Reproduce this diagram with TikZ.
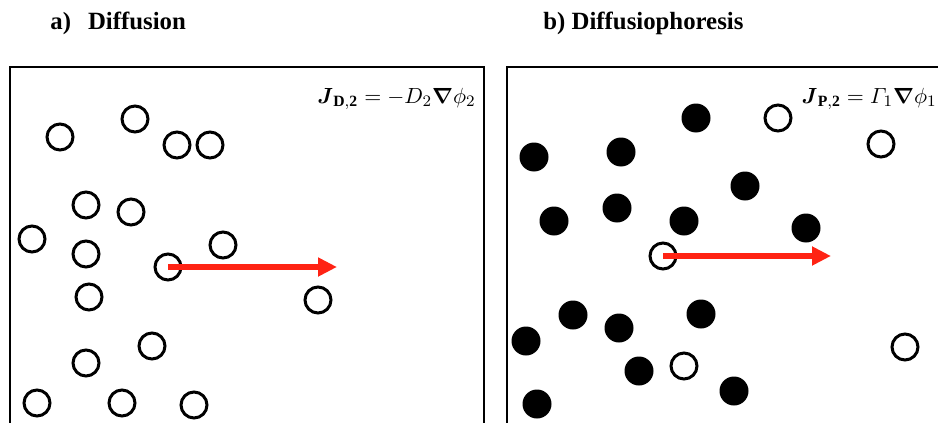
\documentclass[tikz,border=0pt]{standalone}
\usepackage{amsmath,amssymb}
\usepackage{fontspec}
\setmainfont{Liberation Serif}
\usetikzlibrary{arrows.meta}
\definecolor{flux}{HTML}{FF2314}

\begin{document}
\begin{tikzpicture}[x=0.5pt, y=-0.5pt,
  every node/.style={font=\fontsize{12.4}{15}\selectfont},
  title/.style={anchor=base west, inner sep=0pt, font=\fontsize{12.4}{15}\selectfont\bfseries},
  eqn/.style={anchor=base east, inner sep=0pt, font=\fontsize{11.2}{14}\selectfont},
  frame/.style={draw=black, line width=1pt},
  sp2/.style={circle, draw=black, line width=1.5pt, minimum size=13pt, inner sep=0pt},
  sp1/.style={circle, fill=black, minimum size=14.5pt, inner sep=0pt},
  arr/.style={-{Triangle[length=9.5pt,width=9pt]}, line width=3pt, draw=flux}
]
  \useasboundingbox (0,0) rectangle (938,423);

  % panel titles
  \node[title] (titlea) at (50,29) {a)\hspace{8.5pt}Diffusion};
  \node[title] (titleb) at (543,29) {b) Diffusiophoresis};

  % open frames (cut at the bottom)
  \draw[frame] (10,423) |- (484,67) -- (484,423);
  \draw[frame] (507,423) |- (938,67);

  \node[eqn] (eqa) at (476,103) {$\boldsymbol{J}_{\mathbf{D,2}} = -D_2\boldsymbol{\nabla}\phi_2$};
  \node[eqn] (eqb) at (937,103) {$\boldsymbol{J}_{\mathbf{P,2}} = \varGamma_1\boldsymbol{\nabla}\phi_1$};

  % a) species 2 only
  \node[sp2] (a1)  at (60,137)  {};
  \node[sp2] (a2)  at (135,119) {};
  \node[sp2] (a3)  at (177,145) {};
  \node[sp2] (a4)  at (210,145) {};
  \node[sp2] (a5)  at (86,205)  {};
  \node[sp2] (a6)  at (131,212) {};
  \node[sp2] (a7)  at (32,239)  {};
  \node[sp2] (a8)  at (86,254)  {};
  \node[sp2] (a9)  at (223,245) {};
  \node[sp2] (a10) at (168,267) {};
  \node[sp2] (a11) at (89,297)  {};
  \node[sp2] (a12) at (318,300) {};
  \node[sp2] (a13) at (152,346) {};
  \node[sp2] (a14) at (86,363)  {};
  \node[sp2] (a15) at (37,403)  {};
  \node[sp2] (a16) at (122,403) {};
  \node[sp2] (a17) at (194,405) {};

  \coordinate (tipa) at (337,267);
  \draw[arr] (a10.center) -- (tipa);

  % b) species 1 (filled) and species 2 (open)
  \node[sp1] (b1)  at (696,118) {};
  \node[sp1] (b2)  at (534,157) {};
  \node[sp1] (b3)  at (621,152) {};
  \node[sp1] (b4)  at (745,186) {};
  \node[sp1] (b5)  at (554,221) {};
  \node[sp1] (b6)  at (617,208) {};
  \node[sp1] (b7)  at (684,221) {};
  \node[sp1] (b8)  at (806,228) {};
  \node[sp1] (b9)  at (573,315) {};
  \node[sp1] (b10) at (619,328) {};
  \node[sp1] (b11) at (701,314) {};
  \node[sp1] (b12) at (526,341) {};
  \node[sp1] (b13) at (639,371) {};
  \node[sp1] (b14) at (734,391) {};
  \node[sp1] (b15) at (537,404) {};
  \node[sp2] (c1)  at (778,118) {};
  \node[sp2] (c2)  at (881,144) {};
  \node[sp2] (c3)  at (663,256) {};
  \node[sp2] (c4)  at (684,366) {};
  \node[sp2] (c5)  at (905,347) {};

  \coordinate (tipb) at (831,256);
  \draw[arr] (c3.center) -- (tipb);
\end{tikzpicture}
\end{document}
